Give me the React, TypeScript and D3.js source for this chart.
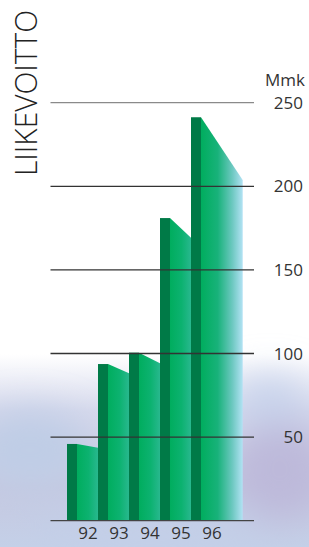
import { useEffect, useRef } from 'react';
import * as d3 from 'd3';

// liikevoitto, Mmk
const years = ['92', '93', '94', '95', '96'];
const profitTop = [45.9, 93.7, 100.5, 181, 241.3];
const profitEnd = [43.7, 88.2, 94.1, 169.3, 203.8];
const ticks = [50, 100, 150, 200, 250];

const App = () => {
  const svgRef = useRef(null);

  useEffect(() => {
    const width = 309;
    const height = 547;
    const svg = d3.select(svgRef.current);
    svg.selectAll('*').remove();
    svg.attr('width', width).attr('height', height);

    const defs = svg.append('defs');

    // background haze at the bottom
    const bg = defs.append('linearGradient').attr('id', 'bgGrad')
      .attr('x1', 0).attr('y1', 0).attr('x2', 0).attr('y2', 1);
    bg.append('stop').attr('offset', '0%').attr('stop-color', '#ffffff');
    bg.append('stop').attr('offset', '22%').attr('stop-color', '#ffffff');
    bg.append('stop').attr('offset', '45%').attr('stop-color', '#d6d9ec');
    bg.append('stop').attr('offset', '75%').attr('stop-color', '#c6c8e0');
    bg.append('stop').attr('offset', '100%').attr('stop-color', '#c4d0e8');

    const blur = defs.append('filter').attr('id', 'blur')
      .attr('x', '-50%').attr('y', '-50%').attr('width', '200%').attr('height', '200%');
    blur.append('feGaussianBlur').attr('stdDeviation', 18);

    const sideGrad = defs.append('linearGradient').attr('id', 'sideGrad')
      .attr('x1', 0).attr('y1', 0).attr('x2', 1).attr('y2', 0);
    sideGrad.append('stop').attr('offset', '0%').attr('stop-color', '#00ad5e');
    sideGrad.append('stop').attr('offset', '55%').attr('stop-color', '#0cb270');
    sideGrad.append('stop').attr('offset', '100%').attr('stop-color', '#28b88e');

    const lastGrad = defs.append('linearGradient').attr('id', 'lastGrad')
      .attr('x1', 0).attr('y1', 0).attr('x2', 1).attr('y2', 0);
    lastGrad.append('stop').attr('offset', '0%').attr('stop-color', '#00ad5e');
    lastGrad.append('stop').attr('offset', '40%').attr('stop-color', '#18b27a');
    lastGrad.append('stop').attr('offset', '75%').attr('stop-color', '#6cc8c0');
    lastGrad.append('stop').attr('offset', '100%').attr('stop-color', '#b2e2f4');

    svg.append('rect').attr('x', 0).attr('y', 300).attr('width', width).attr('height', 247)
      .attr('fill', 'url(#bgGrad)');
    const haze = svg.append('g').attr('filter', 'url(#blur)');
    haze.append('ellipse').attr('cx', 30).attr('cy', 450).attr('rx', 60).attr('ry', 40).attr('fill', '#bfcde6');
    haze.append('ellipse').attr('cx', 280).attr('cy', 470).attr('rx', 50).attr('ry', 50).attr('fill', '#bdb9da');
    haze.append('ellipse').attr('cx', 270).attr('cy', 400).attr('rx', 40).attr('ry', 25).attr('fill', '#c9d4ec');
    haze.append('ellipse').attr('cx', 150).attr('cy', 530).attr('rx', 120).attr('ry', 20).attr('fill', '#c3cfe8');

    const y = d3.scaleLinear().domain([0, 250]).range([520.7, 102.7]);
    const x = d3.scaleBand().domain(years).range([67, 67 + 31 * 5]).paddingInner(0).paddingOuter(0);
    const frontW = 10;
    const chartRight = 242.7;
    const gridLeft = 50.5;
    const gridRight = 254;

    // bars
    years.forEach((yr, i) => {
      const x0 = x(yr);
      const xf = x0 + frontW;
      const xe = i < years.length - 1 ? x(years[i + 1]) : chartRight;
      svg.append('path')
        .attr('d', `M${xf},${y(0)} L${xf},${y(profitTop[i])} L${xe},${y(profitEnd[i])} L${xe},${y(0)} Z`)
        .attr('fill', i < years.length - 1 ? 'url(#sideGrad)' : 'url(#lastGrad)');
      svg.append('rect')
        .attr('x', x0).attr('y', y(profitTop[i]))
        .attr('width', frontW).attr('height', y(0) - y(profitTop[i]))
        .attr('fill', '#007a47');
    });

    // gridlines
    svg.append('line').attr('x1', gridLeft).attr('x2', gridRight)
      .attr('y1', y(0)).attr('y2', y(0)).attr('stroke', '#444').attr('stroke-width', 1.3);
    ticks.forEach((t) => {
      svg.append('line').attr('x1', gridLeft).attr('x2', gridRight)
        .attr('y1', y(t)).attr('y2', y(t))
        .attr('stroke', t === 250 ? '#8a8a8a' : '#333').attr('stroke-width', 1.3);
      svg.append('text').attr('x', 303).attr('y', y(t)).attr('dy', '0.36em')
        .attr('text-anchor', 'end').attr('font-family', "'Open Sans', sans-serif")
        .attr('font-size', 17).attr('fill', '#333').text(t);
    });

    svg.append('text').attr('x', 305).attr('y', 86).attr('text-anchor', 'end')
      .attr('font-family', "'Open Sans', sans-serif").attr('font-size', 17)
      .attr('fill', '#333').text('Mmk');

    // year labels
    years.forEach((yr) => {
      svg.append('text').attr('x', x(yr) + 21).attr('y', 539)
        .attr('text-anchor', 'middle').attr('font-family', "'Open Sans', sans-serif")
        .attr('font-size', 17).attr('fill', '#333').text(yr);
    });

    // title
    svg.append('text')
      .attr('transform', 'translate(37,176) rotate(-90)')
      .attr('font-family', "'Open Sans', sans-serif").attr('font-weight', 300)
      .attr('font-size', 31).attr('fill', '#222')
      .attr('textLength', 166).attr('lengthAdjust', 'spacingAndGlyphs')
      .text('LIIKEVOITTO');
  }, []);

  return (
    <div style={{ position: 'absolute', left: 0, top: 0 }}>
      <svg ref={svgRef} style={{ display: 'block' }}></svg>
    </div>
  );
};

export default App;
